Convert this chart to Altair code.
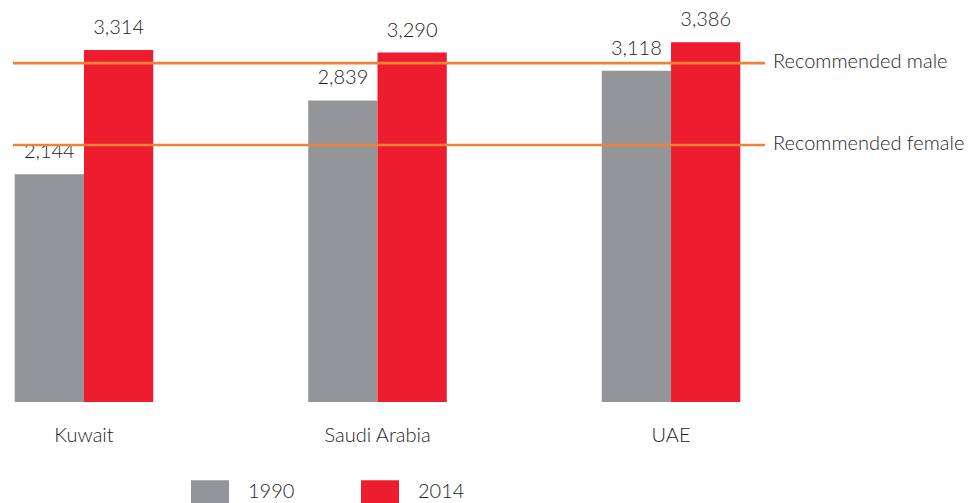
import altair as alt
import pandas as pd

countries = ["Kuwait", "Saudi Arabia", "UAE"]
years = ["1990", "2014"]
values_1990 = [2144, 2839, 3118]
values_2014 = [3314, 3290, 3386]

ref_labels = ["Recommended male", "Recommended female"]
ref_values = [3190, 2420]

FONT = "Lato"
FW = 300
FS = 20
TXT = "#1e1e1e"
GRAY = "#939598"
RED = "#ED1C2E"
ORANGE = "#EF8236"

rows = []
for c, a, b in zip(countries, values_1990, values_2014):
    rows.append({"country": c, "year": years[0], "value": a})
    rows.append({"country": c, "year": years[1], "value": b})
df = pd.DataFrame(rows)
df["label"] = df["value"].map(lambda v: f"{v:,}")

ref_df = pd.DataFrame({"name": ref_labels, "value": ref_values})

yscale = alt.Scale(domain=[0, 3709], nice=False, zero=True)
xscale = alt.Scale(paddingInner=0.528, paddingOuter=0.0228)

x_enc = alt.X(
    "country:N",
    sort=countries,
    scale=xscale,
    title=None,
    axis=alt.Axis(
        domain=False,
        ticks=False,
        labelAngle=0,
        labelFont=FONT,
        labelFontWeight=FW,
        labelFontSize=FS,
        labelColor=TXT,
        labelPadding=23,
    ),
)
xoff = alt.XOffset("year:N", sort=years, scale=alt.Scale(paddingInner=0, paddingOuter=0))

bars = alt.Chart(df).mark_bar().encode(
    x=x_enc,
    xOffset=xoff,
    y=alt.Y("value:Q", scale=yscale, axis=None),
    color=alt.Color(
        "year:N",
        sort=years,
        scale=alt.Scale(domain=years, range=[GRAY, RED]),
        legend=alt.Legend(
            title=None,
            orient="none",
            direction="horizontal",
            legendX=183,
            legendY=464.5,
            padding=0,
            symbolType="M-1,-0.605H1V0.605H-1Z",
            symbolSize=1444,
            symbolStrokeWidth=0,
            symbolOpacity=1,
            labelFont=FONT,
            labelFontWeight=FW,
            labelFontSize=FS,
            labelColor=TXT,
            labelOffset=19,
            columnPadding=66,
        ),
    ),
)

labels = alt.Chart(df).mark_text(
    font=FONT, fontWeight=FW, fontSize=FS, color=TXT,
    baseline="alphabetic", align="center", dy=-16
).encode(
    x=alt.X("country:N", sort=countries, scale=xscale),
    xOffset=xoff,
    y=alt.Y("value:Q", scale=yscale),
    text="label:N",
)

rules = alt.Chart(ref_df).mark_rule(color=ORANGE, strokeWidth=2.6).encode(
    y=alt.Y("value:Q", scale=yscale),
    x=alt.value(5),
    x2=alt.value(757),
)

rule_text = alt.Chart(ref_df).mark_text(
    font=FONT, fontWeight=FW, fontSize=FS, color=TXT,
    align="left", baseline="middle", dy=-1
).encode(
    y=alt.Y("value:Q", scale=yscale),
    x=alt.value(765),
    text="name:N",
)

chart = (
    alt.layer(bars, labels, rules, rule_text)
    .properties(width=739, height=394, padding=0, background="white")
    .configure_view(stroke=None, strokeWidth=0)
)

chart.save("out.html", embed_options={"renderer": "svg", "actions": False})
